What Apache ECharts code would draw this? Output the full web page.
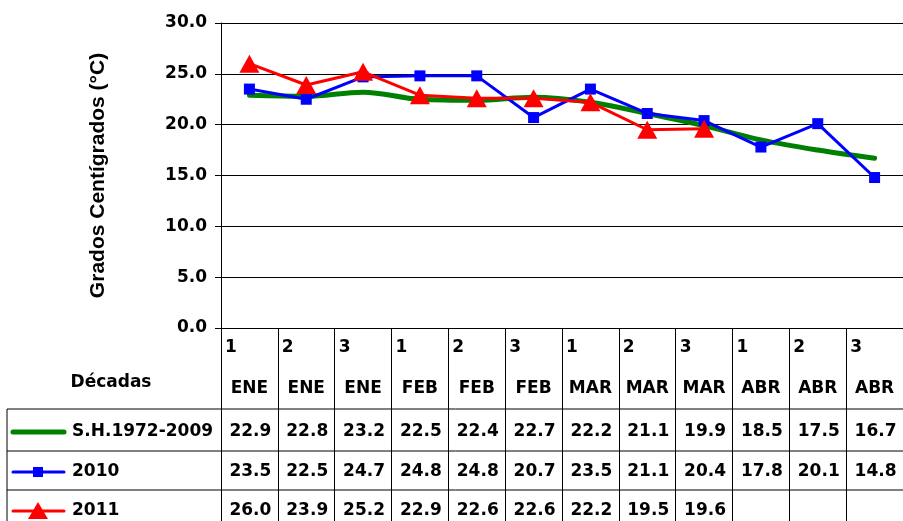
<!DOCTYPE html>
<html><head><meta charset="utf-8">
<script src="https://cdn.jsdelivr.net/npm/echarts@6/dist/echarts.min.js"></script>
<style>html,body{margin:0;padding:0;background:#fff}#c{width:903px;height:521px}</style>
</head><body><div id="c"></div>
<script>
var decadas = ['1','2','3','1','2','3','1','2','3','1','2','3'];
var meses = ['ENE','ENE','ENE','FEB','FEB','FEB','MAR','MAR','MAR','ABR','ABR','ABR'];
var seriesNames = ['S.H.1972-2009','2010','2011'];
var sh = [22.9,22.8,23.2,22.5,22.4,22.7,22.2,21.1,19.9,18.5,17.5,16.7];
var y2010 = [23.5,22.5,24.7,24.8,24.8,20.7,23.5,21.1,20.4,17.8,20.1,14.8];
var y2011 = [26.0,23.9,25.2,22.9,22.6,22.6,22.2,19.5,19.6,null,null,null];
var yTicks = [0,5,10,15,20,25,30];

var chart = echarts.init(document.getElementById('c'), null, {renderer:'canvas'});
var cats = decadas.map(function(d,i){return d+' '+meses[i];});
var tf = 'DejaVu Sans';
var option = {
  animation:false,
  grid:{left:221,right:-2,top:23,bottom:193,containLabel:false},
  xAxis:{type:'category',data:cats,boundaryGap:true,
    axisLine:{show:true,lineStyle:{color:'#000',width:1}},
    axisTick:{show:true,length:200,interval:0,lineStyle:{color:'#000',width:1}},
    axisLabel:{show:false},splitLine:{show:false}},
  yAxis:{type:'value',min:yTicks[0],max:yTicks[yTicks.length-1],interval:5,
    name:'Grados Centígrados (°C)',nameLocation:'middle',nameGap:112,
    nameTextStyle:{fontFamily:'Liberation Sans',fontWeight:'bold',fontSize:21,color:'#000'},
    axisLine:{show:true,lineStyle:{color:'#000',width:1}},
    axisTick:{show:true,length:6,lineStyle:{color:'#000'}},
    axisLabel:{margin:14,formatter:function(v){return v.toFixed(1);},fontFamily:tf,fontWeight:'bold',fontSize:17,color:'#000'},
    splitLine:{show:true,lineStyle:{color:'#000',width:1}}},
  series:[
    {name:seriesNames[0],type:'line',data:sh,smooth:0.35,showSymbol:false,symbol:'none',lineStyle:{color:'#008000',width:5,cap:'round'},itemStyle:{color:'#008000'},z:2},
    {name:seriesNames[1],type:'line',data:y2010,symbol:'rect',symbolSize:11,lineStyle:{color:'#0000FF',width:3},itemStyle:{color:'#0000FF'},z:3},
    {name:seriesNames[2],type:'line',data:y2011,symbol:'triangle',symbolSize:[20,18],lineStyle:{color:'#FF0000',width:3},itemStyle:{color:'#FF0000'},z:4}
  ]
};
chart.setOption(option);

var g = [];
var rowY = [432,472,511];
var lineTop = 409, rowLines=[409,451,490];
rowLines.forEach(function(y){
  g.push({type:'line',shape:{x1:7,y1:y,x2:905,y2:y},style:{stroke:'#000',lineWidth:1},silent:true});
});
g.push({type:'line',shape:{x1:7,y1:409,x2:7,y2:530},style:{stroke:'#000',lineWidth:1}});
var colW = chart.convertToPixel({xAxisIndex:0}, cats[1]) - chart.convertToPixel({xAxisIndex:0}, cats[0]);
var allData=[sh,y2010,y2011];
cats.forEach(function(c,i){
  var cx = chart.convertToPixel({xAxisIndex:0}, c);
  var left = cx - colW/2;
  g.push({type:'text',x:left+4,y:348,style:{text:decadas[i],font:'bold 17px "DejaVu Sans"',fill:'#000',textAlign:'left',textVerticalAlign:'middle'}});
  g.push({type:'text',x:cx,y:389,style:{text:meses[i],font:'bold 17px "DejaVu Sans"',fill:'#000',textAlign:'center',textVerticalAlign:'middle'}});
  allData.forEach(function(arr,r){
    if(arr[i]!=null){
      g.push({type:'text',x:cx+1,y:rowY[r],style:{text:arr[i].toFixed(1),font:'bold 17px "DejaVu Sans"',fill:'#000',textAlign:'center',textVerticalAlign:'middle'}});
    }
  });
});
g.push({type:'text',x:111,y:383,style:{text:'Décadas',font:'bold 17px "DejaVu Sans"',fill:'#000',textAlign:'center',textVerticalAlign:'middle'}});
var colors=['#008000','#0000FF','#FF0000'];
seriesNames.forEach(function(n,r){
  var y=rowY[r];
  g.push({type:'line',shape:{x1:13,y1:y,x2:64,y2:y},style:{stroke:colors[r],lineWidth:r===0?5:3,lineCap:'round'}});
  g.push({type:'text',x:72,y:y,style:{text:n,font:'bold 17px "DejaVu Sans"',fill:'#000',textAlign:'left',textVerticalAlign:'middle'}});
});
g.push({type:'rect',shape:{x:33,y:rowY[1]-5,width:10,height:10},style:{fill:'#0000FF'}});
g.push({type:'polygon',shape:{points:[[38,rowY[2]-9],[48,rowY[2]+8],[28,rowY[2]+8]]},style:{fill:'#FF0000'}});
chart.setOption({graphic:{elements:g}});
</script></body></html>
